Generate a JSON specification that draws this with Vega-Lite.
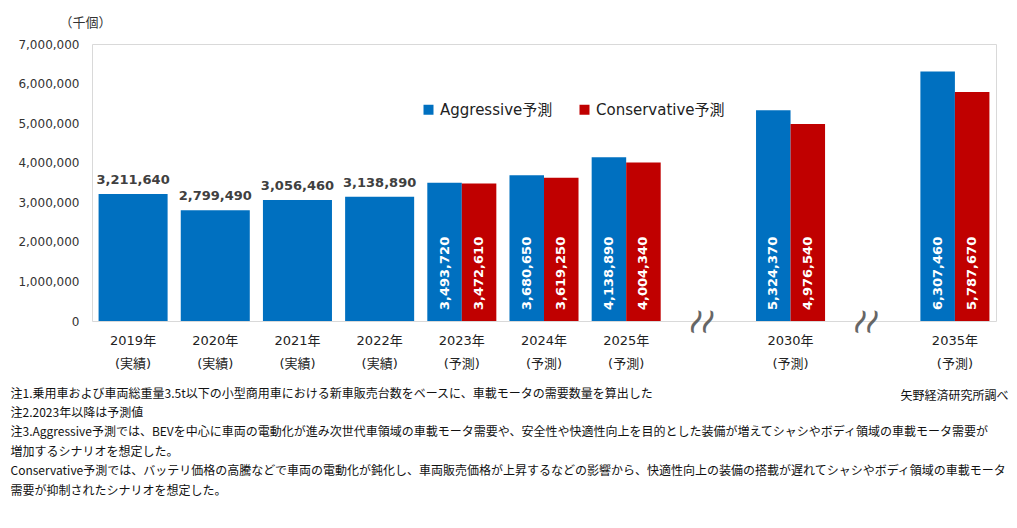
{
  "$schema": "https://vega.github.io/schema/vega-lite/v6.json",
  "width": 904,
  "height": 277,
  "autosize": {"type": "none"},
  "padding": {"left": 92, "top": 44, "right": 21, "bottom": 207},
  "background": "white",
  "config": {
    "view": {"stroke": "#d9d9d9", "strokeWidth": 1},
    "font": "DejaVu Sans, Noto Sans CJK JP"
  },
  "data": {
    "values": [
      {"cat": "2019", "series": "実績", "value": 3211640},
      {"cat": "2020", "series": "実績", "value": 2799490},
      {"cat": "2021", "series": "実績", "value": 3056460},
      {"cat": "2022", "series": "実績", "value": 3138890},
      {"cat": "2023", "series": "Aggressive予測", "value": 3493720},
      {"cat": "2023", "series": "Conservative予測", "value": 3472610},
      {"cat": "2024", "series": "Aggressive予測", "value": 3680650},
      {"cat": "2024", "series": "Conservative予測", "value": 3619250},
      {"cat": "2025", "series": "Aggressive予測", "value": 4138890},
      {"cat": "2025", "series": "Conservative予測", "value": 4004340},
      {"cat": "2030", "series": "Aggressive予測", "value": 5324370},
      {"cat": "2030", "series": "Conservative予測", "value": 4976540},
      {"cat": "2035", "series": "Aggressive予測", "value": 6307460},
      {"cat": "2035", "series": "Conservative予測", "value": 5787670}
    ]
  },
  "resolve": {"axis": {"y": "independent"}},
  "layer": [
    {
      "transform": [{"filter": "datum.series === '実績'"}],
      "mark": {"type": "bar", "color": "#0070C0"},
      "encoding": {
        "x": {
          "field": "cat",
          "type": "nominal",
          "scale": {
            "domain": ["2019", "2020", "2021", "2022", "2023", "2024", "2025", "gap1", "2030", "gap2", "2035"],
            "paddingInner": 0.16,
            "paddingOuter": 0.08
          },
          "axis": {
            "labelExpr": "test(/gap/, datum.value) ? '' : [datum.value + '年', toNumber(datum.value) <= 2022 ? '(実績)' : '(予測)']",
            "labelAngle": 0,
            "labelFontSize": 13,
            "labelLineHeight": 23,
            "labelPadding": 13,
            "labelColor": "#222222",
            "labelFont": "DejaVu Sans, Noto Sans CJK JP",
            "ticks": false,
            "domain": false,
            "grid": false,
            "title": [
              "注1.乗用車および車両総重量3.5t以下の小型商用車における新車販売台数をベースに、車載モータの需要数量を算出した",
              "注2.2023年以降は予測値",
              "注3.Aggressive予測では、BEVを中心に車両の電動化が進み次世代車領域の車載モータ需要や、安全性や快適性向上を目的とした装備が増えてシャシやボディ領域の車載モータ需要が",
              "増加するシナリオを想定した。",
              "Conservative予測では、バッテリ価格の高騰などで車両の電動化が鈍化し、車両販売価格が上昇するなどの影響から、快適性向上の装備の搭載が遅れてシャシやボディ領域の車載モータ",
              "需要が抑制されたシナリオを想定した。"
            ],
            "titleX": -82,
            "titleY": 67,
            "titleAlign": "left",
            "titleAnchor": "start",
            "titleBaseline": "top",
            "titleFont": "Noto Sans CJK JP",
            "titleFontSize": 12,
            "titleFontWeight": "normal",
            "titleColor": "#111111",
            "titleLineHeight": 19.4
          }
        },
        "y": {
          "field": "value",
          "type": "quantitative",
          "scale": {"domain": [0, 7000000], "nice": false},
          "axis": {
            "values": [0, 1000000, 2000000, 3000000, 4000000, 5000000, 6000000, 7000000],
            "format": ",.0f",
            "labelFontSize": 12,
            "labelColor": "#333333",
            "labelPadding": 13,
            "ticks": false,
            "domain": false,
            "grid": false,
            "title": "（千個）",
            "titleAngle": 0,
            "titleX": -33,
            "titleY": -22,
            "titleAlign": "left",
            "titleBaseline": "middle",
            "titleFont": "Noto Sans CJK JP",
            "titleFontSize": 13,
            "titleFontWeight": "normal",
            "titleColor": "#333333"
          }
        }
      }
    },
    {
      "transform": [{"filter": "datum.series === '実績'"}],
      "mark": {"type": "text", "fontWeight": "bold", "fontSize": 13, "color": "#404040", "baseline": "alphabetic", "dy": -10, "font": "DejaVu Sans"},
      "encoding": {
        "x": {"field": "cat", "type": "nominal"},
        "y": {"field": "value", "type": "quantitative", "axis": null},
        "text": {"field": "value", "type": "quantitative", "format": ","}
      }
    },
    {
      "transform": [{"filter": "datum.series !== '実績'"}],
      "mark": {"type": "bar"},
      "encoding": {
        "x": {"field": "cat", "type": "nominal"},
        "xOffset": {"field": "series", "type": "nominal", "sort": ["Aggressive予測", "Conservative予測"], "scale": {"paddingInner": 0, "paddingOuter": 0}},
        "y": {"field": "value", "type": "quantitative", "axis": null},
        "color": {
          "field": "series",
          "type": "nominal",
          "scale": {"domain": ["Aggressive予測", "Conservative予測"], "range": ["#0070C0", "#C00000"]},
          "legend": {
            "orient": "none",
            "legendX": 329,
            "legendY": 58,
            "direction": "horizontal",
            "title": null,
            "padding": 0,
            "labelFontSize": 15,
            "labelFont": "DejaVu Sans, Noto Sans CJK JP",
            "labelColor": "#222222",
            "labelOffset": 4,
            "columnPadding": 24,
            "symbolType": "square",
            "symbolSize": 100,
            "symbolStrokeWidth": 0
          }
        }
      }
    },
    {
      "transform": [{"filter": "datum.series !== '実績'"}],
      "mark": {"type": "text", "fontWeight": "bold", "fontSize": 13, "color": "white", "angle": 270, "align": "left", "baseline": "middle", "dx": 11, "font": "DejaVu Sans"},
      "encoding": {
        "x": {"field": "cat", "type": "nominal"},
        "xOffset": {"field": "series", "type": "nominal", "sort": ["Aggressive予測", "Conservative予測"]},
        "y": {"datum": 0, "type": "quantitative", "axis": null},
        "text": {"field": "value", "type": "quantitative", "format": ","}
      }
    },
    {
      "data": {"values": [{"cat": "gap1"}, {"cat": "gap2"}]},
      "mark": {"type": "text", "text": "~", "fontSize": 36, "color": "#666666", "align": "center", "baseline": "middle", "angle": 295, "dx": -5.98, "dy": -10.45, "font": "DejaVu Sans"},
      "encoding": {
        "x": {"field": "cat", "type": "nominal"},
        "y": {"datum": 0, "type": "quantitative", "axis": null}
      }
    },
    {
      "data": {"values": [{"cat": "gap1"}, {"cat": "gap2"}]},
      "mark": {"type": "text", "text": "~", "fontSize": 36, "color": "#666666", "align": "center", "baseline": "middle", "angle": 295, "dx": -0.91, "dy": 0.42, "font": "DejaVu Sans"},
      "encoding": {
        "x": {"field": "cat", "type": "nominal"},
        "y": {
          "datum": 0,
          "type": "quantitative",
          "axis": {
            "orient": "right",
            "labels": false,
            "ticks": false,
            "domain": false,
            "grid": false,
            "title": "矢野経済研究所調べ",
            "titleAngle": 0,
            "titleX": 12,
            "titleY": 351,
            "titleAlign": "right",
            "titleBaseline": "middle",
            "titleFont": "Noto Sans CJK JP",
            "titleFontSize": 12,
            "titleFontWeight": "normal",
            "titleColor": "#111111"
          }
        }
      }
    }
  ]
}
